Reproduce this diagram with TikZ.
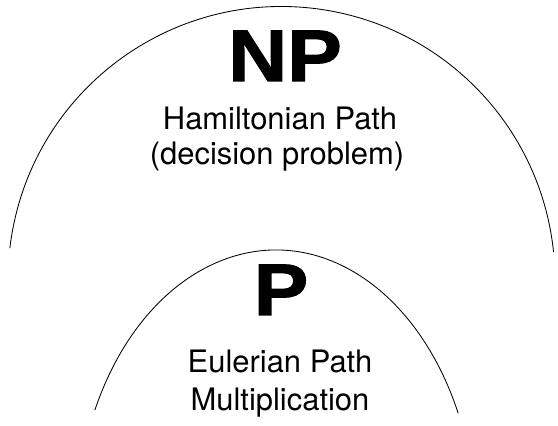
\documentclass[tikz,border=0pt]{standalone}
\usepackage{fontspec}
\setmainfont{TeX Gyre Heros}
\newfontfamily\heavyfont[FakeBold=1.5,FakeStretch=1.12]{Liberation Sans Bold}
\usepackage{tikz}

\begin{document}
\begin{tikzpicture}[x=0.025cm, y=0.025cm]
			%%%%% START %%%%%
			
			\useasboundingbox (0, 0) rectangle (558, 426);
			
			% NP: circular arc, P: elliptical arc
			\draw[line width=0.6pt] (281.5, 146) ++(173.3:273.5) arc[start angle=173.3, end angle=5.9, radius=273.5];
			\draw[line width=0.6pt] (276, -102) ++(154.9:200 and 278) arc[start angle=154.9, end angle=24.4, x radius=200, y radius=278];
			
			\node[anchor=base] (np) at (285, 345) {\heavyfont\fontsize{52}{52}\selectfont NP};
			\node[anchor=base] (hampath) at (280, 296.5) {\fontsize{22}{26}\selectfont Hamiltonian Path};
			\node[anchor=base] (decision) at (277, 261.5) {\fontsize{22}{26}\selectfont (decision problem)};
			
			\node[anchor=base] (p) at (281, 111) {\heavyfont\fontsize{52}{52}\selectfont P};
			\node[anchor=base] (eulpath) at (280, 53.5) {\fontsize{22}{26}\selectfont Eulerian Path};
			\node[anchor=base] (mult) at (280, 15.5) {\fontsize{22}{26}\selectfont Multiplication};
			
			%%%%% END %%%%%
		\end{tikzpicture}
\end{document}
